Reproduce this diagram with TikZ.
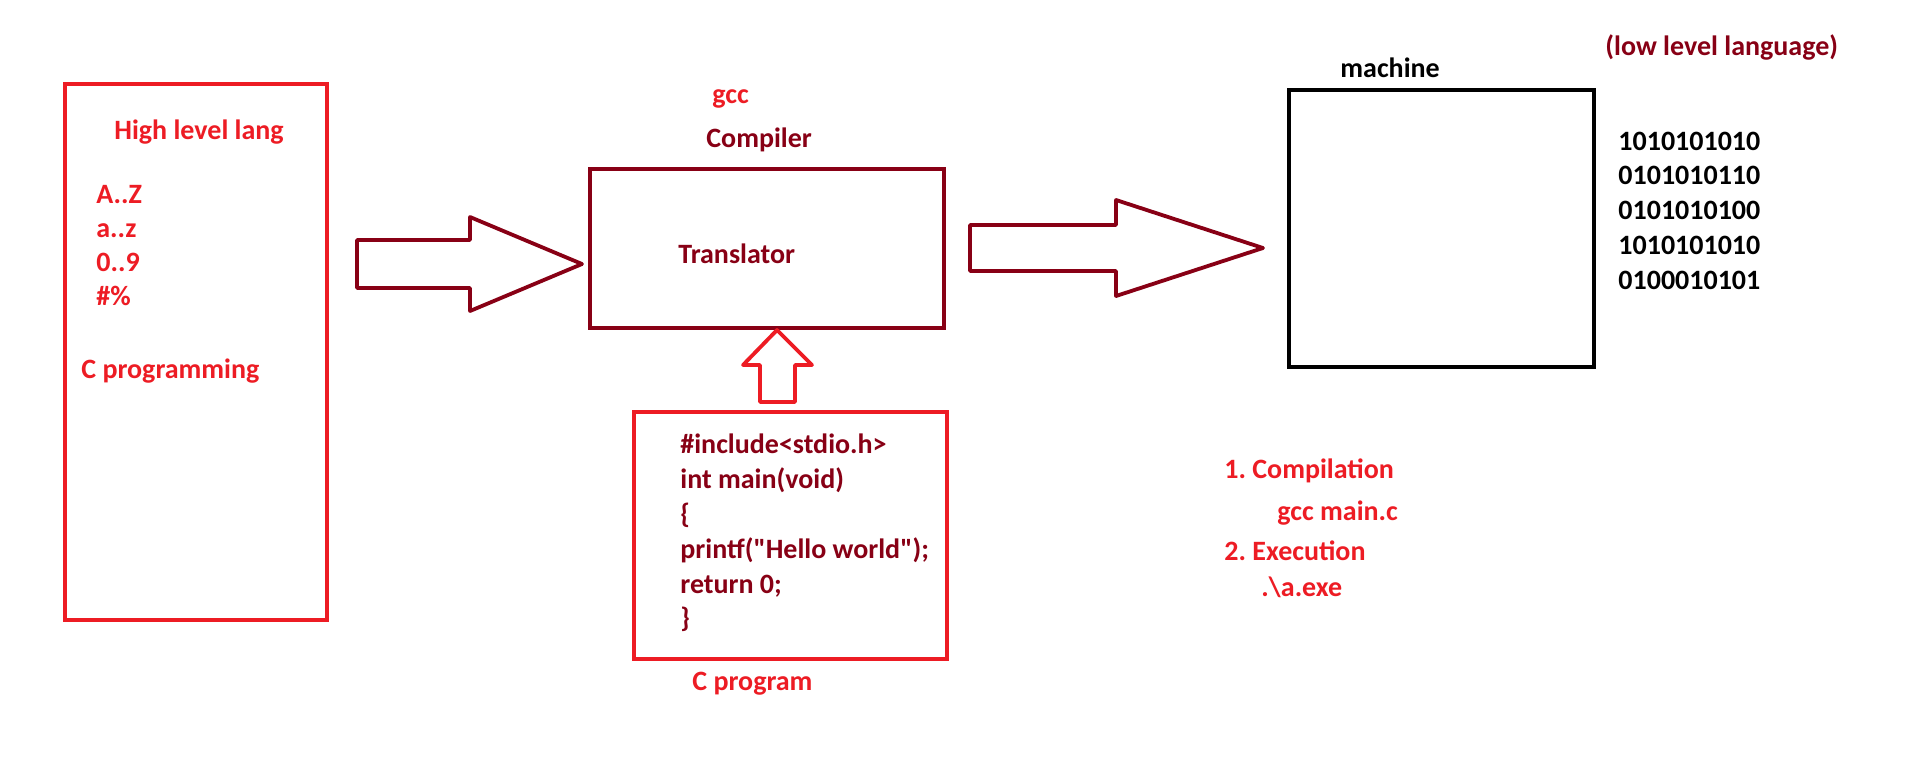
\documentclass[tikz,border=0pt]{standalone}
\usepackage{fontspec}
\setmainfont{Carlito}
\newfontfamily\codefont{Carlito}
\definecolor{redA}{RGB}{237,28,36}
\definecolor{darkA}{RGB}{136,0,21}
\begin{document}
\frenchspacing
\begin{tikzpicture}[x=0.5pt,y=-0.5pt,
  txt/.style={font=\fontsize{14}{17}\selectfont\bfseries, inner sep=0, anchor=base west},
  codetxt/.style={font=\codefont\fontsize{14}{17}\selectfont\bfseries, inner sep=0, anchor=base west, text=darkA},
  boxA/.style={draw, line width=2.2pt, inner sep=0, fill=none},
  blockarrow/.style={line width=1.9pt, line join=round}]
\useasboundingbox[fill=white] (0,0) rectangle (1910,772);

% left box
\node[boxA, draw=redA, minimum width=131pt, minimum height=268pt] (hl) at (196,352) {};
\node[txt, text=redA] (hll) at (114,139) {High level lang};
\node[txt, text=redA] (az1) at (96,203) {A..Z};
\node[txt, text=redA] (az2) at (96,237) {a..z};
\node[txt, text=redA] (d09) at (96,271) {0..9};
\node[txt, text=redA] (hp) at (96,305) {\#\%};
\node[txt, text=redA] (cpg) at (81,378) {C programming};

% arrow 1
\draw[blockarrow, draw=darkA] (357,240) coordinate (a1s) -- (470,240) -- (470,217) -- (582,264) coordinate (a1t) -- (470,311) -- (470,288) -- (357,288) -- cycle;

% translator box
\node[boxA, draw=darkA, minimum width=177pt, minimum height=79.5pt] (tr) at (767,248.5) {};
\node[txt, text=redA] (gcc) at (712,103) {gcc};
\node[txt, text=darkA] (comp) at (706,147) {Compiler};
\node[txt, text=darkA] (trl) at (678,263) {Translator};

% up arrow
\draw[blockarrow, draw=redA] (777,330) coordinate (uat) -- (812,365) -- (795,365) -- (795,402) -- (760,402) -- (760,365) -- (743,365) -- cycle;

% code box
\node[boxA, draw=redA, minimum width=156.5pt, minimum height=123.5pt] (code) at (790.5,535.5) {};
\node[codetxt] (l1) at (680,453) {\#include<stdio.h>};
\node[codetxt] (l2) at (680,488) {int main(void)};
\node[codetxt] (l3) at (680,523) {\{};
\node[codetxt] (l4) at (680,558) {printf("Hello world");};
\node[codetxt] (l5) at (680,593) {return 0;};
\node[codetxt] (l6) at (680,627) {\}};
\node[txt, text=redA] (cprog) at (692,690) {C program};

% arrow 2
\draw[blockarrow, draw=darkA] (970,225) coordinate (a2s) -- (1116,225) -- (1116,200) -- (1263,248) coordinate (a2t) -- (1116,296) -- (1116,271) -- (970,271) -- cycle;

% machine box
\node[boxA, draw=black, minimum width=152.5pt, minimum height=138.5pt] (mach) at (1441.5,228.5) {};
\node[txt, text=black] (machl) at (1340,77) {machine};
\node[txt, text=darkA] (low) at (1605,55) {(low level language)};
\node[txt, text=black] (b1) at (1618,150) {1010101010};
\node[txt, text=black] (b2) at (1618,184) {0101010110};
\node[txt, text=black] (b3) at (1618,219) {0101010100};
\node[txt, text=black] (b4) at (1618,254) {1010101010};
\node[txt, text=black] (b5) at (1618,289) {0100010101};

% steps
\node[txt, text=redA] (s1) at (1224,478) {1. Compilation};
\node[txt, text=redA] (s1c) at (1277,520) {gcc main.c};
\node[txt, text=redA] (s2) at (1224,560) {2. Execution};
\node[txt, text=redA] (s2c) at (1261,596) {.\textbackslash a.exe};
\end{tikzpicture}
\end{document}
